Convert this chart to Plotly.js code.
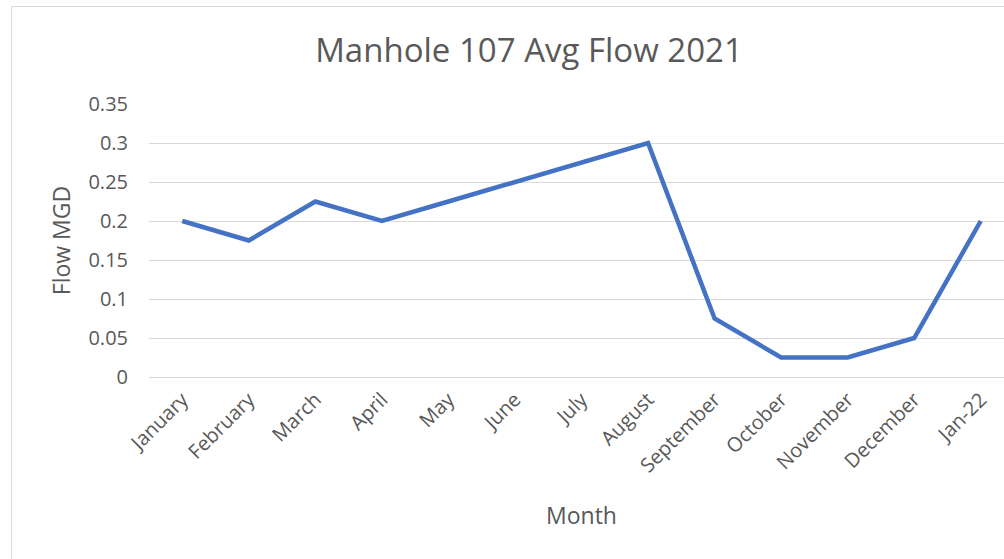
<!DOCTYPE html>
<html>
<head>
<meta charset="utf-8">
<script src="https://cdn.plot.ly/plotly-3.0.1.min.js"></script>
<style>
  html, body { margin: 0; padding: 0; width: 1004px; height: 559px; overflow: hidden; background: #fff; }
  #frame { position: absolute; left: 11px; top: 6px; width: 1100px; height: 700px; border: 1px solid #d9d9d9; box-sizing: border-box; }
  #chart { position: absolute; left: 0; top: 0; width: 1030px; height: 559px; }
</style>
</head>
<body>
<div id="frame"></div>
<div id="chart"></div>
<script>
const months = ["January","February","March","April","May","June","July","August","September","October","November","December","Jan-22"];
const flowMGD = [0.2, 0.175, 0.225, 0.2, 0.225, 0.25, 0.275, 0.3, 0.075, 0.025, 0.025, 0.05, 0.2];
const yTicks = [0, 0.05, 0.1, 0.15, 0.2, 0.25, 0.3, 0.35];
const yTickLabels = ["0", "0.05", "0.1", "0.15", "0.2", "0.25", "0.3", "0.35"];

const font = "'Open Sans', 'Noto Sans', sans-serif";
const grey = "#595959";

const trace = {
  x: months,
  y: flowMGD,
  type: "scatter",
  mode: "lines",
  line: { color: "#4472C4", width: 4.5 },
  hoverinfo: "x+y"
};

const layout = {
  width: 1030,
  height: 559,
  margin: { l: 149, r: 16, t: 104, b: 182 },
  paper_bgcolor: "rgba(0,0,0,0)",
  plot_bgcolor: "rgba(0,0,0,0)",
  showlegend: false,
  font: { family: font, color: grey },
  title: {
    text: "Manhole 107 Avg Flow 2021",
    font: { family: font, size: 33, color: grey },
    xref: "container", yref: "container",
    x: 529 / 1030, y: 1 - 50 / 559,
    xanchor: "center", yanchor: "middle"
  },
  xaxis: {
    type: "category",
    range: [-0.5, 12.5],
    tickangle: -45,
    tickfont: { family: font, size: 20, color: grey },
    showgrid: false,
    showline: false,
    zeroline: false,
    ticks: "",
    ticklabelstandoff: 6,
    title: { text: "Month", font: { family: font, size: 23, color: grey }, standoff: 30 }
  },
  yaxis: {
    range: [0, 0.35],
    tickvals: yTicks,
    ticktext: yTickLabels,
    tickfont: { family: font, size: 20, color: grey },
    showgrid: true,
    gridcolor: "#d9d9d9",
    gridwidth: 1,
    zeroline: true,
    zerolinecolor: "#d9d9d9",
    zerolinewidth: 1,
    showline: false,
    ticks: "",
    ticklabelstandoff: 20,
    title: { text: "Flow MGD", font: { family: font, size: 23, color: grey }, standoff: 11 }
  }
};

Plotly.newPlot("chart", [trace], layout, { displayModeBar: false, staticPlot: true });
</script>
</body>
</html>
